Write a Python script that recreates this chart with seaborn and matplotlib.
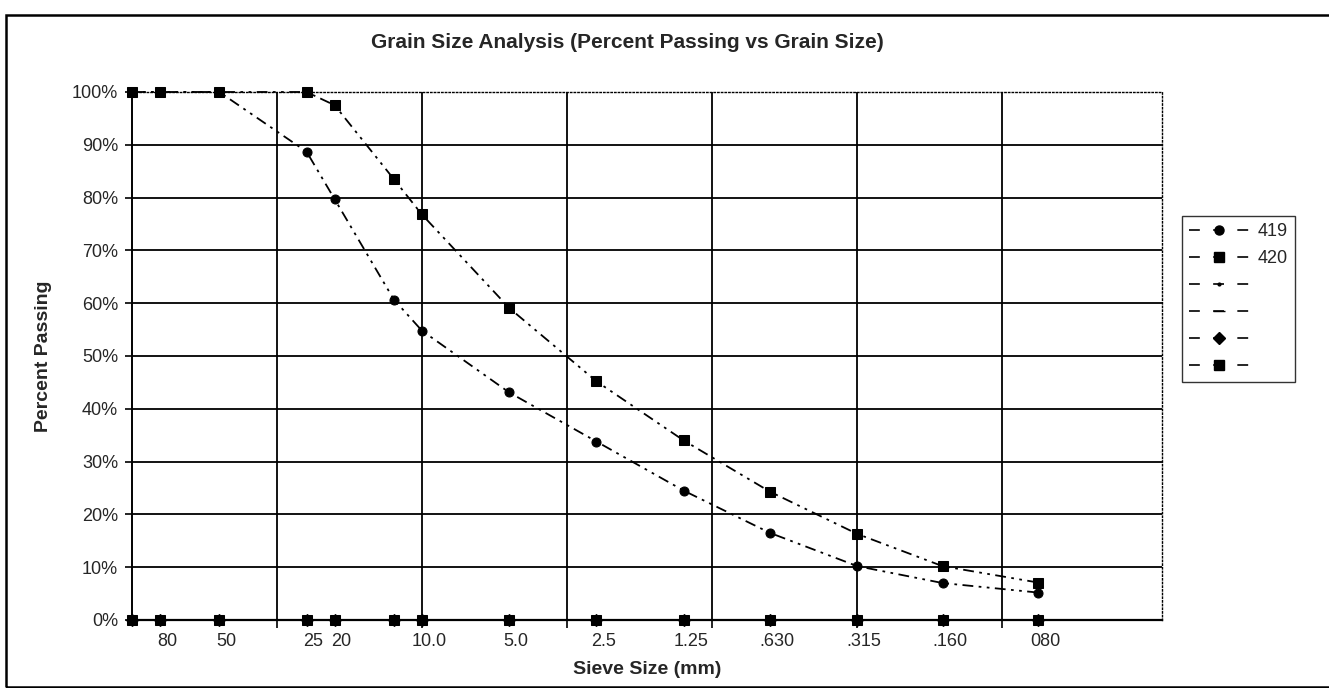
import pandas as pd
import seaborn as sns
import matplotlib.pyplot as plt
from matplotlib.lines import Line2D
from matplotlib.patches import Rectangle
import matplotlib.transforms as mtransforms

# sieve sizes (mm) and percent passing
sizes = [100, 80, 50, 25, 20, 12.5, 10, 5, 2.5, 1.25, 0.63, 0.315, 0.16, 0.075]
pass_419 = [100, 100, 100, 88.7, 79.7, 60.7, 54.8, 43.1, 33.8, 24.5, 16.5, 10.2, 7.0, 5.2]
pass_420 = [100, 100, 100, 100, 97.5, 83.5, 76.8, 59.1, 45.2, 34.0, 24.3, 16.3, 10.2, 7.1]
pass_blank = [0] * len(sizes)

tick_sizes = [80, 50, 25, 20, 10, 5, 2.5, 1.25, 0.63, 0.315, 0.16, 0.075]
tick_labels = ['80', '50', '25', '20', '10.0', '5.0', '2.5', '1.25', '.630', '.315', '.160', '080']
grid_sizes = [31.62, 10, 3.162, 1, 0.3162, 0.1]
y_ticks = list(range(0, 101, 10))

df = pd.DataFrame({'size': sizes, '419': pass_419, '420': pass_420, 'blank': pass_blank})

sns.set_style('white')
plt.rcParams['font.family'] = ['Liberation Sans', 'DejaVu Sans']

fig = plt.figure(figsize=(13.29, 6.88), dpi=100)
ax = fig.add_axes([132 / 1329, 1 - 620 / 688, (1162 - 132) / 1329, (620 - 92) / 688])

dashdotdot = (0, (6, 3, 1.5, 3, 1.5, 3))
sns.lineplot(data=df, x='size', y='blank', ax=ax, color='black', marker='D', markersize=6,
             linestyle=':', linewidth=1.2, markeredgecolor='black')
sns.lineplot(data=df, x='size', y='blank', ax=ax, color='black', marker='s', markersize=7,
             linestyle=':', linewidth=1.2, markeredgecolor='black')
sns.lineplot(data=df, x='size', y='419', ax=ax, color='black', marker='o', markersize=6.5,
             linestyle=dashdotdot, linewidth=1.3, markeredgecolor='black')
sns.lineplot(data=df, x='size', y='420', ax=ax, color='black', marker='s', markersize=7,
             linestyle=dashdotdot, linewidth=1.3, markeredgecolor='black')
for ln in ax.lines:
    ln.set_clip_on(False)

ax.set_xscale('log')
ax.set_xlim(100, 0.028)
ax.set_ylim(0, 100)

ax.xaxis.remove_overlapping_locs = False
ax.set_xticks(grid_sizes)
ax.set_xticklabels([''] * len(grid_sizes))
ax.set_xticks(tick_sizes, tick_labels, minor=True)
ax.tick_params(axis='x', which='major', direction='out', length=6, width=1.2, color='black', bottom=True)
ax.tick_params(axis='x', which='minor', length=0, labelsize=13, pad=9)
offset = mtransforms.ScaledTranslation(7 / 100, 0, fig.dpi_scale_trans)
for lab in ax.xaxis.get_minorticklabels():
    lab.set_transform(lab.get_transform() + offset)

ax.set_yticks(y_ticks)
ax.set_yticklabels([f'{v}%' for v in y_ticks])
ax.tick_params(axis='y', direction='out', length=5, width=1.2, color='black', left=True, labelsize=13, pad=5)

ax.grid(True, which='major', color='black', linewidth=1.3)
for gl in ax.get_ygridlines():
    y = gl.get_ydata()[0]
    if y in (0, 100):
        gl.set_visible(False)

ax.spines['left'].set_linewidth(1.4)
ax.spines['bottom'].set_linewidth(1.6)
for s in ('left', 'bottom'):
    ax.spines[s].set_color('black')
for s in ('top', 'right'):
    ax.spines[s].set_color('black')
    ax.spines[s].set_linestyle(':')
    ax.spines[s].set_linewidth(1.0)

ax.set_xlabel('Sieve Size (mm)', fontsize=14, fontweight='bold', labelpad=8)
ax.set_ylabel('Percent Passing', fontsize=14, fontweight='bold', labelpad=14)
fig.text(627 / 1329, 1 - 43 / 688, 'Grain Size Analysis (Percent Passing vs Grain Size)',
         ha='center', va='center', fontsize=15, fontweight='bold')

leg_dash = (0, (6.5, 8))
handles = [
    Line2D([], [], color='black', linestyle=leg_dash, lw=1.2, marker='o', markersize=6.5),
    Line2D([], [], color='black', linestyle=leg_dash, lw=1.2, marker='s', markersize=7),
    Line2D([], [], color='black', linestyle=leg_dash, lw=1.2, marker='.', markersize=4),
    Line2D([], [], color='black', linestyle=leg_dash, lw=1.2, marker='_', markersize=8),
    Line2D([], [], color='black', linestyle=leg_dash, lw=1.2, marker='D', markersize=6),
    Line2D([], [], color='black', linestyle=leg_dash, lw=1.2, marker='s', markersize=7),
]
labels = ['419', '420', '', '', '', '']
leg = fig.legend(handles, labels, loc='upper left', bbox_to_anchor=(1182 / 1329, 1 - 216 / 688),
                 fontsize=13, frameon=True, fancybox=False, handlelength=3.3, handletextpad=0.5,
                 labelspacing=0.55, borderpad=0.4, borderaxespad=0)
leg.get_frame().set_edgecolor('black')
leg.get_frame().set_linewidth(1.0)

fig.add_artist(Rectangle((6 / 1329, 1 / 688), 1.2, 1 - 15 / 688 - 1 / 688, transform=fig.transFigure,
                         fill=False, edgecolor='black', linewidth=1.8))

fig.savefig('out.png', dpi=100)
